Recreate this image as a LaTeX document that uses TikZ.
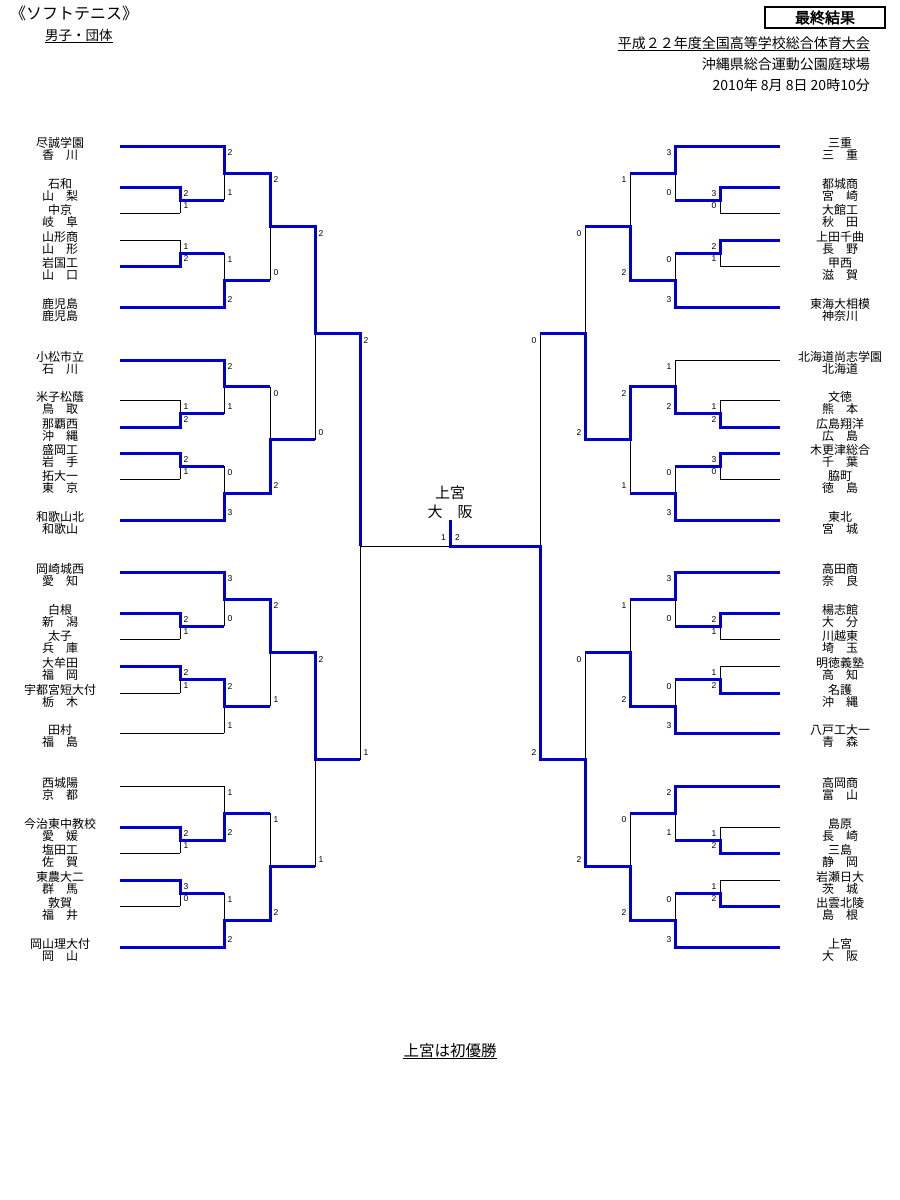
\documentclass[tikz,border=0pt]{standalone}
\usepackage{fontspec}
\setmainfont{Liberation Sans}
\newfontfamily\jpf{Noto Sans CJK JP}
\newfontfamily\jpb{Noto Sans CJK JP}[FakeBold=2.5]
\newfontfamily\scf{Liberation Sans}
\definecolor{bblue}{RGB}{0,0,204}
\pgfdeclarelayer{back}
\pgfdeclarelayer{bg}
\pgfsetlayers{back,bg,main}
\tikzset{
 win/.style={draw=bblue, line width=3pt, line join=miter},
 lose/.style={draw=black, line width=1pt},
 tname/.style={font=\jpf\fontsize{12}{12}\selectfont, inner sep=0pt, anchor=base},
 score/.style={font=\scf\fontsize{8.5}{9}\selectfont, inner sep=0pt},
 champ/.style={font=\jpf\fontsize{15}{15}\selectfont, inner sep=0pt, anchor=base},
 head/.style={font=\jpf\fontsize{14}{14}\selectfont, inner sep=0pt},
}
\newcommand\teamL[6]{%
 \node[tname] (#1) at (60,#2+1.5) {#3};
 \node[tname] (#1p) at (60,#2+13.5) {#4};
 \coordinate (#1a) at (120,#2);
 \coordinate (#1z) at (#6,#2);
 \draw[#5] (#1a) -- (#1z);
}
\newcommand\teamR[6]{%
 \node[tname] (#1) at (840,#2+1.5) {#3};
 \node[tname] (#1p) at (840,#2+13.5) {#4};
 \coordinate (#1a) at (780,#2);
 \coordinate (#1z) at (#6,#2);
 \draw[#5] (#1a) -- (#1z);
}
\newcommand\brkmatch[8]{%
 \pgfmathsetmacro\ymidv{(#4+#5)/2}%
 \coordinate (#1t) at (#2,#4);
 \coordinate (#1m) at (#2,\ymidv);
 \coordinate (#1b) at (#2,#5);
 \coordinate (#1o) at (#3,\ymidv);
 \if#6t
   \begin{pgfonlayer}{bg}\draw[lose] (#1m) -- (#1b);\end{pgfonlayer}
   \draw[win] ([yshift=1.5pt]#1t) -- (#1m) -- (#1o);
 \else
   \begin{pgfonlayer}{bg}\draw[lose] (#1t) -- (#1m);\end{pgfonlayer}
   \draw[win] ([yshift=-1.5pt]#1b) -- (#1m) -- (#1o);
 \fi
}
\newcommand\matchL[8]{%
 \brkmatch{#1}{#2}{#3}{#4}{#5}{#6}{#7}{#8}
 \node[score,anchor=west] (#1st) at (#2+3.5,#4+7) {#7};
 \node[score,anchor=west] (#1sb) at (#2+3.5,#5-7) {#8};
}
\newcommand\matchR[8]{%
 \brkmatch{#1}{#2}{#3}{#4}{#5}{#6}{#7}{#8}
 \node[score,anchor=east] (#1st) at (#2-3.5,#4+7) {#7};
 \node[score,anchor=east] (#1sb) at (#2-3.5,#5-7) {#8};
}
\begin{document}
\begin{tikzpicture}[x=1pt,y=-1pt]
\begin{pgfonlayer}{back}
\path[fill=white] (0,0) rectangle (900,1200);
\end{pgfonlayer}
\useasboundingbox (0,0) rectangle (900,1200);

% header
\node[font=\jpf\fontsize{16}{16}\selectfont, anchor=base west, inner sep=0pt] (title) at (10,19.5) {《ソフトテニス》};
\node[font=\jpf\fontsize{13.5}{13.5}\selectfont, anchor=base west, inner sep=0pt] (sub) at (45,40) {男子・団体};
\draw[line width=1pt] ([yshift=-2.2pt]sub.base west) -- ([yshift=-2.2pt]sub.base east);
\node[draw, line width=1.6pt, minimum width=120pt, minimum height=21pt, inner sep=0pt, font=\jpb\fontsize{15}{15}\selectfont] (final) at (825,17.5) {最終結果};
\node[head, anchor=base east] (meet) at (870,48.5) {平成２２年度全国高等学校総合体育大会};
\draw[line width=1pt] ([yshift=-2.2pt]meet.base west) -- ([yshift=-2.2pt]meet.base east);
\node[head, anchor=base east] (venue) at (870,69.5) {沖縄県総合運動公園庭球場};
\node[head, anchor=base east] (date) at (870,90) {2010年 8月 8日 20時10分};

% ---------- left side ----------
\teamL{a1}{146}{尽誠学園}{香　川}{win}{224}
\teamL{a2}{187}{石和}{山　梨}{win}{180}
\teamL{a3}{213}{中京}{岐　阜}{lose}{180}
\teamL{a4}{240}{山形商}{山　形}{lose}{180}
\teamL{a5}{266}{岩国工}{山　口}{win}{180}
\teamL{a6}{307}{鹿児島}{鹿児島}{win}{224}
\matchL{ma1}{180}{224}{187}{213}{t}{2}{1}
\matchL{ma2}{180}{224}{240}{266}{b}{1}{2}
\matchL{ma3}{224}{270}{146}{200}{t}{2}{1}
\matchL{ma4}{224}{270}{253}{307}{b}{1}{2}
\matchL{ma5}{270}{315}{173}{280}{t}{2}{0}

\teamL{b1}{360}{小松市立}{石　川}{win}{224}
\teamL{b2}{400}{米子松蔭}{鳥　取}{lose}{180}
\teamL{b3}{427}{那覇西}{沖　縄}{win}{180}
\teamL{b4}{453}{盛岡工}{岩　手}{win}{180}
\teamL{b5}{479}{拓大一}{東　京}{lose}{180}
\teamL{b6}{520}{和歌山北}{和歌山}{win}{224}
\matchL{mb1}{180}{224}{400}{427}{b}{1}{2}
\matchL{mb2}{180}{224}{453}{479}{t}{2}{1}
\matchL{mb3}{224}{270}{360}{413.5}{t}{2}{1}
\matchL{mb4}{224}{270}{466}{520}{b}{0}{3}
\matchL{mb5}{270}{315}{386.75}{493}{b}{0}{2}
\matchL{mab}{315}{360}{226.5}{439.875}{t}{2}{0}

\teamL{c1}{572}{岡崎城西}{愛　知}{win}{224}
\teamL{c2}{613}{白根}{新　潟}{win}{180}
\teamL{c3}{639}{太子}{兵　庫}{lose}{180}
\teamL{c4}{666}{大牟田}{福　岡}{win}{180}
\teamL{c5}{693}{宇都宮短大付}{栃　木}{lose}{180}
\teamL{c6}{733}{田村}{福　島}{lose}{224}
\matchL{mc1}{180}{224}{613}{639}{t}{2}{1}
\matchL{mc2}{180}{224}{666}{693}{t}{2}{1}
\matchL{mc3}{224}{270}{572}{626}{t}{3}{0}
\matchL{mc4}{224}{270}{679.5}{733}{t}{2}{1}
\matchL{mc5}{270}{315}{599}{706.25}{t}{2}{1}

\teamL{d1}{786}{西城陽}{京　都}{lose}{224}
\teamL{d2}{827}{今治東中教校}{愛　媛}{win}{180}
\teamL{d3}{853}{塩田工}{佐　賀}{lose}{180}
\teamL{d4}{880}{東農大二}{群　馬}{win}{180}
\teamL{d5}{906}{敦賀}{福　井}{lose}{180}
\teamL{d6}{947}{岡山理大付}{岡　山}{win}{224}
\matchL{md1}{180}{224}{827}{853}{t}{2}{1}
\matchL{md2}{180}{224}{880}{906}{t}{3}{0}
\matchL{md3}{224}{270}{786}{840}{b}{1}{2}
\matchL{md4}{224}{270}{893}{947}{b}{1}{2}
\matchL{md5}{270}{315}{813}{920}{b}{1}{2}
\matchL{mcd}{315}{360}{652.625}{866.5}{t}{2}{1}

% ---------- right side ----------
\teamR{e1}{146}{三重}{三　重}{win}{675}
\teamR{e2}{187}{都城商}{宮　崎}{win}{720}
\teamR{e3}{213}{大館工}{秋　田}{lose}{720}
\teamR{e4}{240}{上田千曲}{長　野}{win}{720}
\teamR{e5}{266}{甲西}{滋　賀}{lose}{720}
\teamR{e6}{307}{東海大相模}{神奈川}{win}{675}
\matchR{me1}{720}{675}{187}{213}{t}{3}{0}
\matchR{me2}{720}{675}{240}{266}{t}{2}{1}
\matchR{me3}{675}{630}{146}{200}{t}{3}{0}
\matchR{me4}{675}{630}{253}{307}{b}{0}{3}
\matchR{me5}{630}{585}{173}{280}{b}{1}{2}

\teamR{f1}{360}{北海道尚志学園}{北海道}{lose}{675}
\teamR{f2}{400}{文徳}{熊　本}{lose}{720}
\teamR{f3}{427}{広島翔洋}{広　島}{win}{720}
\teamR{f4}{453}{木更津総合}{千　葉}{win}{720}
\teamR{f5}{479}{脇町}{徳　島}{lose}{720}
\teamR{f6}{520}{東北}{宮　城}{win}{675}
\matchR{mf1}{720}{675}{400}{427}{b}{1}{2}
\matchR{mf2}{720}{675}{453}{479}{t}{3}{0}
\matchR{mf3}{675}{630}{360}{413.5}{b}{1}{2}
\matchR{mf4}{675}{630}{466}{520}{b}{0}{3}
\matchR{mf5}{630}{585}{386.75}{493}{t}{2}{1}
\matchR{mef}{585}{540}{226.5}{439.875}{b}{0}{2}

\teamR{g1}{572}{高田商}{奈　良}{win}{675}
\teamR{g2}{613}{楊志館}{大　分}{win}{720}
\teamR{g3}{639}{川越東}{埼　玉}{lose}{720}
\teamR{g4}{666}{明徳義塾}{高　知}{lose}{720}
\teamR{g5}{693}{名護}{沖　縄}{win}{720}
\teamR{g6}{733}{八戸工大一}{青　森}{win}{675}
\matchR{mg1}{720}{675}{613}{639}{t}{2}{1}
\matchR{mg2}{720}{675}{666}{693}{b}{1}{2}
\matchR{mg3}{675}{630}{572}{626}{t}{3}{0}
\matchR{mg4}{675}{630}{679.5}{733}{b}{0}{3}
\matchR{mg5}{630}{585}{599}{706.25}{b}{1}{2}

\teamR{h1}{786}{高岡商}{富　山}{win}{675}
\teamR{h2}{827}{島原}{長　崎}{lose}{720}
\teamR{h3}{853}{三島}{静　岡}{win}{720}
\teamR{h4}{880}{岩瀬日大}{茨　城}{lose}{720}
\teamR{h5}{906}{出雲北陵}{島　根}{win}{720}
\teamR{h6}{947}{上宮}{大　阪}{win}{675}
\matchR{mh1}{720}{675}{827}{853}{b}{1}{2}
\matchR{mh2}{720}{675}{880}{906}{b}{1}{2}
\matchR{mh3}{675}{630}{786}{840}{t}{2}{1}
\matchR{mh4}{675}{630}{893}{947}{b}{0}{3}
\matchR{mh5}{630}{585}{813}{920}{b}{0}{2}
\matchR{mgh}{585}{540}{652.625}{866.5}{b}{0}{2}

% ---------- semifinals and final ----------
\coordinate (slt) at (360,333.1875);
\coordinate (slm) at (360,546.375);
\coordinate (slb) at (360,759.5625);
\coordinate (srt) at (540,333.1875);
\coordinate (srm) at (540,546.375);
\coordinate (srb) at (540,759.5625);
\coordinate (fc) at (450,546.375);
\coordinate (fu) at (450,520);
\begin{pgfonlayer}{bg}
\draw[lose] (slm) -- (slb);
\draw[lose] (slm) -- (fc);
\draw[lose] (srt) -- (srm);
\end{pgfonlayer}
\draw[win] ([yshift=1.5pt]slt) -- (slm);
\draw[win] ([yshift=-1.5pt]srb) -- (srm) -- (fc) -- (fu);
\node[score,anchor=west] (sl1) at (363.5,340.2) {2};
\node[score,anchor=west] (sl2) at (363.5,752.6) {1};
\node[score,anchor=east] (sr1) at (536.5,340.2) {0};
\node[score,anchor=east] (sr2) at (536.5,752.6) {2};
\node[score,anchor=east] (fs1) at (446,538) {1};
\node[score,anchor=west] (fs2) at (455,538) {2};
\node[champ] (ch1) at (450,498.5) {上宮};
\node[champ] (ch2) at (450,517) {大　阪};

% result
\node[font=\jpf\fontsize{15.5}{15.5}\selectfont, anchor=base, inner sep=0pt] (res) at (450,1056) {上宮は初優勝};
\draw[line width=1pt] ([yshift=-2pt]res.base west) -- ([yshift=-2pt]res.base east);
\end{tikzpicture}
\end{document}
